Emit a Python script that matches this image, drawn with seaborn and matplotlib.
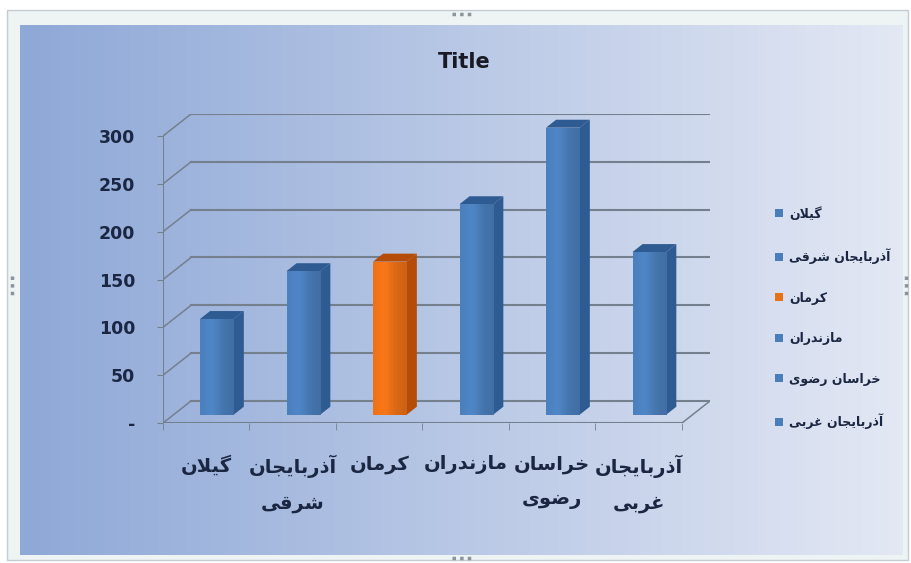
import numpy as np
import pandas as pd
import matplotlib
matplotlib.use("Agg")
import matplotlib.pyplot as plt
from matplotlib.patches import Polygon, Rectangle
from matplotlib.lines import Line2D
import seaborn as sns

# data
provinces = ["گیلان", "آذربایجان شرقی", "کرمان", "مازندران", "خراسان رضوی", "آذربایجان غربی"]
tick_text = ["گیلان", "آذربایجان\nشرقی", "کرمان", "مازندران", "خراسان\nرضوی", "آذربایجان\nغربی"]
values = [100, 150, 160, 220, 300, 170]
front_colors = ["#4a7ebb", "#4a7ebb", "#ea7016", "#4a7ebb", "#4a7ebb", "#4a7ebb"]
side_colors = ["#2e5b92", "#2e5b92", "#b54d08", "#2e5b92", "#2e5b92", "#2e5b92"]
yticks = [0, 50, 100, 150, 200, 250, 300]
ytick_labels = ["-", "50", "100", "150", "200", "250", "300"]

# matplotlib has no arabic shaping, so pick presentation forms by hand
FORMS = {
    "ا": ("\uFE8D", "\uFE8E"), "آ": ("\uFE81", "\uFE82"),
    "د": ("\uFEA9", "\uFEAA"), "ذ": ("\uFEAB", "\uFEAC"),
    "ر": ("\uFEAD", "\uFEAE"), "ز": ("\uFEAF", "\uFEB0"),
    "و": ("\uFEED", "\uFEEE"),
    "ب": ("\uFE8F", "\uFE90", "\uFE91", "\uFE92"),
    "ج": ("\uFE9D", "\uFE9E", "\uFE9F", "\uFEA0"),
    "خ": ("\uFEA5", "\uFEA6", "\uFEA7", "\uFEA8"),
    "س": ("\uFEB1", "\uFEB2", "\uFEB3", "\uFEB4"),
    "ش": ("\uFEB5", "\uFEB6", "\uFEB7", "\uFEB8"),
    "ض": ("\uFEBD", "\uFEBE", "\uFEBF", "\uFEC0"),
    "غ": ("\uFECD", "\uFECE", "\uFECF", "\uFED0"),
    "ق": ("\uFED5", "\uFED6", "\uFED7", "\uFED8"),
    "ل": ("\uFEDD", "\uFEDE", "\uFEDF", "\uFEE0"),
    "م": ("\uFEE1", "\uFEE2", "\uFEE3", "\uFEE4"),
    "ن": ("\uFEE5", "\uFEE6", "\uFEE7", "\uFEE8"),
    "ی": ("\uFBFC", "\uFBFD", "\uFBFE", "\uFBFF"),
    "ک": ("\uFB8E", "\uFB8F", "\uFB90", "\uFB91"),
    "گ": ("\uFB92", "\uFB93", "\uFB94", "\uFB95"),
}
LAM_ALEF = {"ا": ("\uFEFB", "\uFEFC"), "آ": ("\uFEF5", "\uFEF6")}


def dual(c):
    return c in FORMS and len(FORMS[c]) == 4


def shape_line(s):
    out = []
    i = 0
    while i < len(s):
        c = s[i]
        if c not in FORMS:
            out.append(c)
            i += 1
            continue
        jp = i > 0 and dual(s[i - 1])
        if c == "ل" and i + 1 < len(s) and s[i + 1] in LAM_ALEF:
            out.append(LAM_ALEF[s[i + 1]][1 if jp else 0])
            i += 2
            continue
        jn = dual(c) and i + 1 < len(s) and s[i + 1] in FORMS
        f = FORMS[c]
        if jp and jn:
            out.append(f[3])
        elif jp:
            out.append(f[1])
        elif jn:
            out.append(f[2])
        else:
            out.append(f[0])
        i += 1
    return "".join(reversed(out))


def shape(s):
    return "\n".join(shape_line(l) for l in s.split("\n"))


df = pd.DataFrame({"province": [shape(p) for p in provinces], "value": values})

W, H = 912, 563
fig = plt.figure(figsize=(W / 100, H / 100), dpi=100, facecolor="white")
text_c = "#1b2742"

# outer frame + gradient chart area
fig.add_artist(Rectangle((7 / W, 1 - 560 / H), 901 / W, 550 / H, transform=fig.transFigure,
                         fc="#eef3f4", ec="#c3ccd2", lw=1, zorder=-20))
bg = fig.add_axes([20 / W, 1 - 555 / H, 883 / W, 530 / H], zorder=-10)
left_c = np.array(matplotlib.colors.to_rgb("#8ea8d7"))
right_c = np.array(matplotlib.colors.to_rgb("#e3e8f4"))
t = np.linspace(0, 1, 256)[None, :, None]
grad = left_c * (1 - t) + right_c * t
bg.imshow(np.repeat(grad, 2, axis=0), aspect="auto", extent=[0, 1, 0, 1])
bg.axis("off")

# little selection handles on the frame
for (x1, y1, x2, y2) in [(452, 14, 474, 14), (452, 558, 474, 558), (12, 276, 12, 298), (906, 276, 906, 298)]:
    fig.add_artist(Line2D([x1 / W, x2 / W], [1 - y1 / H, 1 - y2 / H], transform=fig.transFigure,
                          color="#8a949c", lw=2.5, linestyle=(0, (1, 1.2))))

# plot axes: front plane + depth offset (DX, DY) in data units
DX, DY = 0.324, 23
ax = fig.add_axes([163 / W, 1 - 423 / H, (710 - 163) / W, (423 - 114) / H])
ax.patch.set_alpha(0)

sns.barplot(data=df, x="province", y="value", hue="province", palette=front_colors,
            width=0.39, saturation=1, legend=True, ax=ax, zorder=3)
bars = [p for c in ax.containers for p in c if np.isfinite(p.get_height()) and p.get_height() > 0]
bars.sort(key=lambda p: p.get_x())
leg = ax.get_legend()
handles = leg.legend_handles
labels = [tx.get_text() for tx in leg.get_texts()]
leg.remove()

# push bars into the middle of the depth and add side/top faces
fx, fy = 0.38 * DX, 0.38 * DY
bx, by = 0.36 * DX, 0.36 * DY
for i, b in enumerate(bars):
    b.set_x(b.get_x() + fx)
    b.set_y(fy)
    b.set_edgecolor("none")
    x0, w, h = b.get_x(), b.get_width(), b.get_height()
    side = Polygon([(x0 + w, fy), (x0 + w + bx, fy + by), (x0 + w + bx, fy + h + by), (x0 + w, fy + h)],
                   closed=True, fc=side_colors[i], ec="none", zorder=3)
    top = Polygon([(x0, fy + h), (x0 + bx, fy + h + by), (x0 + w + bx, fy + h + by), (x0 + w, fy + h)],
                  closed=True, fc=side_colors[i], ec="none", zorder=3)
    ax.add_patch(side)
    ax.add_patch(top)
    # soft horizontal shading on the front face
    base = np.array(matplotlib.colors.to_rgb(front_colors[i]))
    s = np.linspace(0, 1, 64)
    k = 1 + 0.10 * np.exp(-((s - 0.35) / 0.25) ** 2) - 0.12 * s
    shade = np.clip(base[None, :] * k[:, None], 0, 1)[None, :, :]
    im = ax.imshow(shade, extent=[x0, x0 + w, fy, fy + h], aspect="auto", zorder=3.5)
    im.set_clip_path(b)

grid_c = "#75808f"
n = len(values)
# back wall gridlines and left wall diagonals
for v in yticks:
    ax.plot([-0.5 + DX, n - 0.5 + DX], [v + DY, v + DY], color=grid_c, lw=1.5, zorder=1)
    ax.plot([-0.5, -0.5 + DX], [v, v + DY], color=grid_c, lw=1.1, zorder=1)
# floor edges and front axis
ax.plot([-0.5, n - 0.5], [0, 0], color=grid_c, lw=1.5, zorder=2)
ax.plot([n - 0.5, n - 0.5 + DX], [0, DY], color=grid_c, lw=1.1, zorder=2)
ax.plot([-0.5, -0.5], [0, yticks[-1]], color=grid_c, lw=1.5, zorder=2)

ax.set_xlim(-0.5, n - 0.5 + DX)
ax.set_ylim(0, yticks[-1] + DY)
for sp in ax.spines.values():
    sp.set_visible(False)

ax.set_yticks(yticks)
ax.set_yticklabels(ytick_labels, fontweight="bold")
ax.tick_params(axis="y", length=4, color=grid_c, labelsize=12.5, labelcolor=text_c, pad=16)
ax.set_xticks(range(n))
ax.set_xticklabels([shape(tx) for tx in tick_text], fontsize=14, fontweight="bold",
                   color=text_c, linespacing=2.0)
ax.set_xticks(np.arange(-0.5, n, 1), minor=True)
ax.tick_params(axis="x", which="major", length=0, pad=23)
ax.tick_params(axis="x", which="minor", length=5, color=grid_c)
for lab in ax.get_xticklabels():
    lab.set_verticalalignment("top")
ax.set_xlabel("")
ax.set_ylabel("")

fig.text(464 / W, 1 - 62 / H, "Title", ha="center", va="center", fontsize=15,
         fontweight="bold", color="#1a1a24")

ax.legend(handles, labels, loc="center left", bbox_to_anchor=(764 / W, 1 - 318 / H),
          bbox_transform=fig.transFigure, frameon=False, handlelength=0.6, handleheight=0.6,
          handletextpad=0.5, labelspacing=2.2, prop={"size": 9, "weight": "bold"},
          labelcolor=text_c)

fig.savefig("out.png", dpi=100)
